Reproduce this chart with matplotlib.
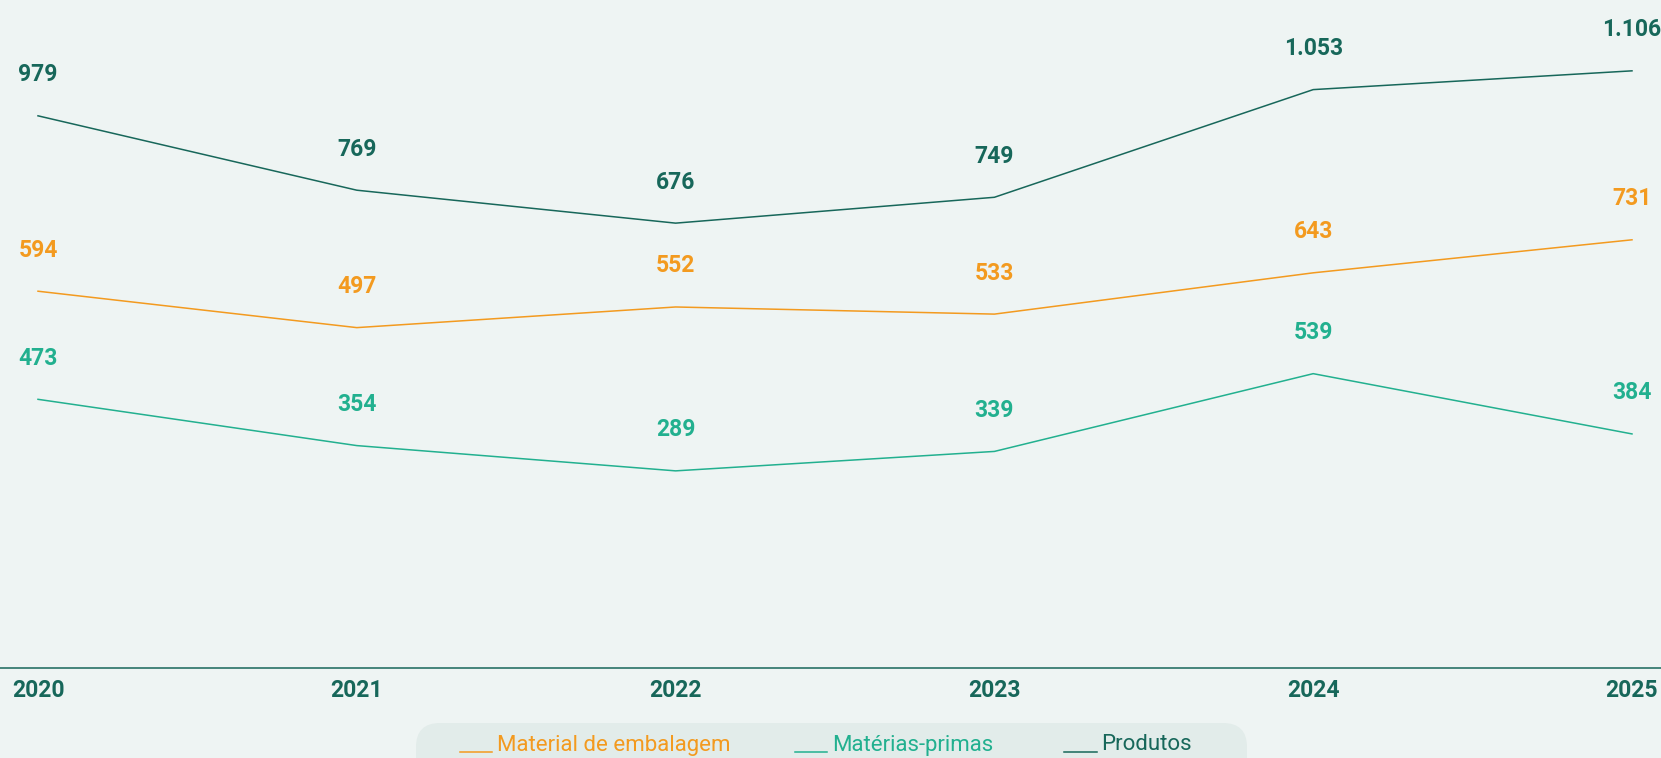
import matplotlib
matplotlib.use('Agg')
import matplotlib.pyplot as plt
from matplotlib.patches import FancyBboxPatch
from matplotlib.lines import Line2D
from matplotlib.transforms import IdentityTransform

# ---- data ----
years = ['2020', '2021', '2022', '2023', '2024', '2025']
series_names = ['Material de embalagem', 'Matérias-primas', 'Produtos']
material_embalagem = [594, 497, 552, 533, 643, 731]
materias_primas = [473, 354, 289, 339, 539, 384]
produtos = [979, 769, 676, 749, 1053, 1106]

# ---- style ----
BG = '#eef4f3'
C_ME = '#f39a1f'
C_MP = '#22b08f'
C_P = '#17675a'
FONT = ['Roboto', 'DejaVu Sans']
plt.rcParams['font.family'] = FONT

W, H = 1661, 758
fig = plt.figure(figsize=(W / 100, H / 100), dpi=100, facecolor=BG)

rect = [0, 90 / H, 1, 668 / H]
xlim = (-0.1192, 5.091)

series = [
    (series_names[2], produtos, C_P, (-580, 1306)),
    (series_names[0], material_embalagem, C_ME, (-410, 1370)),
    (series_names[1], materias_primas, C_MP, (-218, 1500)),
]

x = list(range(len(years)))
base = fig.add_axes(rect, facecolor='none')
axes = [base]
for _ in series[1:]:
    a = fig.add_axes(rect, facecolor='none', sharex=base)
    axes.append(a)

def fmt(v):
    return f"{v:,}".replace(',', '.')

for ax, (name, vals, col, yl) in zip(axes, series):
    ax.plot(x, vals, color=col, lw=1.1, solid_joinstyle='round')
    ax.set_ylim(*yl)
    ax.set_xlim(*xlim)
    for xi, v in zip(x, vals):
        ax.annotate(fmt(v), (xi, v), xytext=(0, 41), textcoords='offset pixels',
                    ha='center', va='center', fontsize=16.5, fontweight='bold',
                    color=col, annotation_clip=False)
    if ax is not base:
        ax.axis('off')

for s in ['top', 'left', 'right']:
    base.spines[s].set_visible(False)
base.spines['bottom'].set_color(C_P)
base.spines['bottom'].set_linewidth(1.1)
base.set_yticks([])
base.set_xticks(x)
base.set_xticklabels(years, fontsize=16.5, fontweight='bold', color=C_P)
base.tick_params(axis='x', length=0, pad=8)

# ---- legend ----
idt = IdentityTransform()
box = FancyBboxPatch((416, -40), 831, (H - 723) + 40,
                     boxstyle='round,pad=0,rounding_size=24',
                     facecolor='#e2ecea', edgecolor='none', transform=idt)
fig.add_artist(box)

legend_items = [
    (series_names[0], C_ME, 460, 492, 497),
    (series_names[1], C_MP, 795, 827, 832),
    (series_names[2], C_P, 1064, 1097, 1101),
]
for name, col, hx0, hx1, tx in legend_items:
    fig.add_artist(Line2D([hx0, hx1], [H - 752, H - 752], color=col, lw=1.1, transform=idt))
    fig.text(tx, H - 745, name, color=col, fontsize=16, ha='left', va='center',
             transform=idt)

fig.savefig('out.png', dpi=100, facecolor=BG)
